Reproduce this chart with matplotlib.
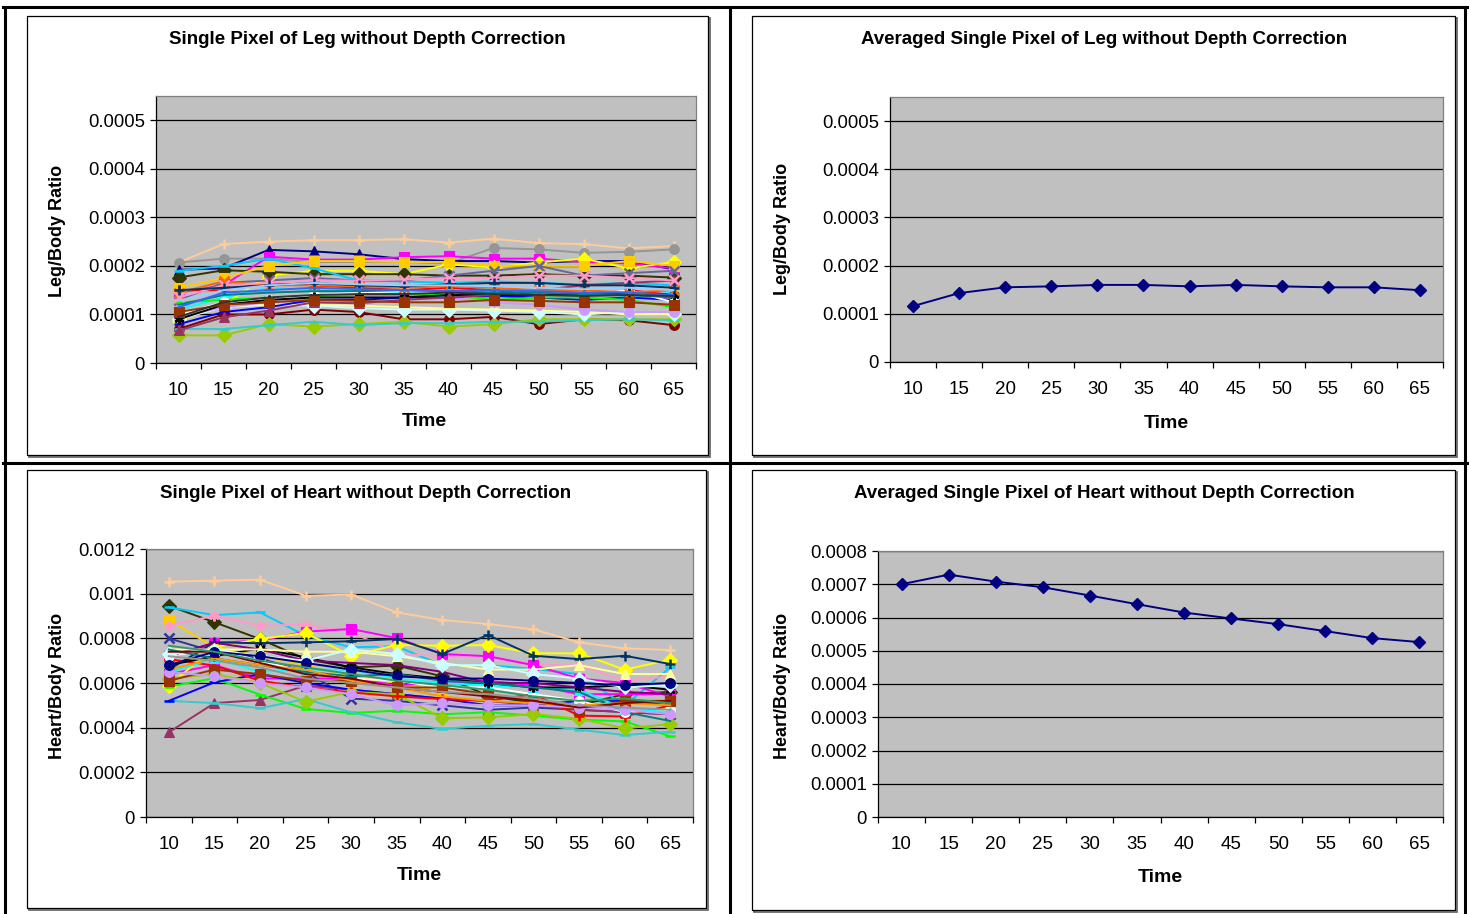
import numpy as np
import matplotlib
matplotlib.use('Agg')
import matplotlib.pyplot as plt
from matplotlib.patches import Rectangle
from matplotlib.lines import Line2D

plt.rcParams['font.family'] = ['Liberation Sans', 'DejaVu Sans']

W, H = 1469, 914

times = ['10', '15', '20', '25', '30', '35', '40', '45', '50', '55', '60', '65']

# leg, one list per pixel
leg_series = [
    [0.000207, 0.000245, 0.00025, 0.000253, 0.000253, 0.000255, 0.000248, 0.000256, 0.000247, 0.000245, 0.000236, 0.000241],
    [0.000207, 0.000215, 0.000215, 0.000208, 0.000208, 0.000208, 0.000205, 0.000237, 0.000234, 0.000227, 0.000229, 0.000234],
    [0.000192, 0.000195, 0.000233, 0.00023, 0.000224, 0.000214, 0.00021, 0.00021, 0.000207, 0.00021, 0.00021, 0.000193],
    [0.000145, 0.00016, 0.000219, 0.000213, 0.000213, 0.000218, 0.00022, 0.000215, 0.000215, 0.000208, 0.000205, 0.000195],
    [0.000087, 0.00012, 0.00018, 0.00019, 0.00019, 0.000183, 0.000203, 0.000197, 0.000207, 0.000215, 0.000195, 0.000208],
    [0.000176, 0.000191, 0.000188, 0.000183, 0.000183, 0.000183, 0.00018, 0.00018, 0.000183, 0.00018, 0.00018, 0.000176],
    [0.00019, 0.0002, 0.000215, 0.000195, 0.00017, 0.000168, 0.000165, 0.000168, 0.000165, 0.000162, 0.000165, 0.00016],
    [0.000155, 0.000175, 0.0002, 0.00021, 0.00021, 0.000208, 0.000208, 0.0002, 0.0002, 0.0002, 0.00021, 0.0002],
    [0.00007, 0.0001, 0.0001, 0.00011, 0.000105, 0.00009, 0.00009, 0.000095, 0.00008, 0.00009, 0.000088, 0.000078],
    [0.000057, 0.000057, 0.00008, 0.000075, 0.00008, 0.000085, 0.000075, 0.00008, 0.00009, 0.00009, 0.00009, 0.00009],
    [0.00007, 0.00007, 0.000078, 0.000085, 0.000078, 0.000082, 0.000082, 0.000085, 0.000085, 0.000088, 0.00009, 0.000088],
    [0.00009, 0.000115, 0.00012, 0.000118, 0.000113, 0.00011, 0.00011, 0.000108, 0.000105, 0.0001, 0.000105, 0.0001],
    [0.0001, 0.000118, 0.00012, 0.00012, 0.000118, 0.000115, 0.000112, 0.00011, 0.000108, 0.000105, 0.0001, 0.0001],
    [0.000095, 0.000115, 0.000125, 0.00013, 0.000135, 0.000135, 0.000135, 0.000125, 0.00012, 0.00011, 0.000105, 0.000105],
    [0.00011, 0.000135, 0.000155, 0.00015, 0.00015, 0.000145, 0.00015, 0.000155, 0.000145, 0.000155, 0.000135, 0.000145],
    [0.00013, 0.000165, 0.00017, 0.000175, 0.00017, 0.00017, 0.00018, 0.00019, 0.0002, 0.00018, 0.000185, 0.00019],
    [0.00008, 0.000105, 0.000115, 0.00013, 0.00013, 0.000135, 0.000135, 0.000138, 0.000135, 0.00013, 0.000135, 0.00013],
    [0.00015, 0.00015, 0.000165, 0.00016, 0.000155, 0.00015, 0.000155, 0.00015, 0.00014, 0.00014, 0.00015, 0.00014],
    [0.000125, 0.00013, 0.000135, 0.000138, 0.00014, 0.00014, 0.00014, 0.00013, 0.000135, 0.000135, 0.00013, 0.000115],
    [0.0001, 0.000125, 0.00013, 0.00014, 0.000145, 0.000148, 0.000145, 0.00014, 0.00015, 0.00014, 0.00015, 0.000125],
    [0.00009, 0.00012, 0.00013, 0.000135, 0.000135, 0.000135, 0.00014, 0.00014, 0.00014, 0.00014, 0.000145, 0.00014],
    [0.000067, 0.000094, 0.000108, 0.000125, 0.000123, 0.00013, 0.000135, 0.00014, 0.00015, 0.00016, 0.000165, 0.00017],
    [0.000145, 0.000168, 0.00016, 0.00016, 0.000158, 0.000155, 0.000158, 0.000155, 0.00015, 0.00015, 0.000145, 0.00015],
    [0.000135, 0.00016, 0.000165, 0.00017, 0.00017, 0.000172, 0.000175, 0.000175, 0.00018, 0.00018, 0.000175, 0.00017],
    [0.00015, 0.000155, 0.00016, 0.000165, 0.00016, 0.000158, 0.000162, 0.000165, 0.000165, 0.00016, 0.00016, 0.000155],
    [0.00012, 0.00014, 0.000145, 0.000148, 0.000148, 0.00015, 0.000148, 0.000145, 0.000145, 0.000142, 0.00014, 0.000135],
    [0.000105, 0.00012, 0.000125, 0.00013, 0.000128, 0.000125, 0.000125, 0.00013, 0.000128, 0.000125, 0.000125, 0.00012],
    [0.000128, 0.00015, 0.00016, 0.000165, 0.000162, 0.00016, 0.00016, 0.000158, 0.000155, 0.000152, 0.000155, 0.00015],
    [0.000115, 0.000145, 0.00015, 0.000155, 0.000152, 0.00015, 0.000148, 0.00015, 0.000148, 0.000145, 0.000145, 0.00014],
    [0.000095, 0.000125, 0.000135, 0.00014, 0.000142, 0.000142, 0.000145, 0.000142, 0.00014, 0.000138, 0.00014, 0.000138],
]
leg_avg = [0.000116, 0.000143, 0.000155, 0.000157, 0.00016, 0.00016, 0.000157, 0.00016, 0.000157, 0.000155, 0.000155, 0.000149]

heart_series = [
    [0.001054, 0.001058, 0.001063, 0.000991, 0.000996, 0.000916, 0.000882, 0.000864, 0.00084, 0.000782, 0.000755, 0.000748],
    [0.000946, 0.000872, 0.000797, 0.000707, 0.00067, 0.000678, 0.00063, 0.000544, 0.00051, 0.0005, 0.00055, 0.00056],
    [0.000939, 0.000904, 0.000916, 0.000812, 0.00076, 0.000764, 0.00068, 0.00068, 0.000663, 0.00064, 0.000499, 0.00067],
    [0.000882, 0.00076, 0.00072, 0.00068, 0.00063, 0.0006, 0.00056, 0.00055, 0.00052, 0.0005, 0.00049, 0.00048],
    [0.000857, 0.000901, 0.000857, 0.000861, 0.00083, 0.00073, 0.00072, 0.000722, 0.00068, 0.00068, 0.00061, 0.00063],
    [0.00072, 0.00078, 0.00079, 0.00083, 0.000842, 0.000801, 0.00073, 0.00072, 0.00068, 0.00062, 0.0006, 0.00054],
    [0.00064, 0.00068, 0.00062, 0.00062, 0.00062, 0.00059, 0.0006, 0.00061, 0.00059, 0.00055, 0.00055, 0.00055],
    [0.000588, 0.00076, 0.000797, 0.000824, 0.000722, 0.00077, 0.000767, 0.00077, 0.000733, 0.000733, 0.00066, 0.000704],
    [0.00066, 0.000782, 0.000778, 0.000782, 0.000787, 0.000797, 0.00073, 0.000815, 0.000722, 0.000707, 0.000722, 0.000685],
    [0.0008, 0.00074, 0.00071, 0.00065, 0.00053, 0.00052, 0.0005, 0.00048, 0.00049, 0.00048, 0.00047, 0.00046],
    [0.000379, 0.00051, 0.000524, 0.000588, 0.00057, 0.00055, 0.00053, 0.00052, 0.0005, 0.00048, 0.00047, 0.00046],
    [0.000584, 0.000621, 0.000548, 0.000484, 0.000466, 0.000476, 0.00046, 0.000469, 0.000454, 0.000436, 0.000428, 0.000361],
    [0.00052, 0.00051, 0.000487, 0.000528, 0.000469, 0.000424, 0.000394, 0.000409, 0.000416, 0.000391, 0.000367, 0.000382],
    [0.00052, 0.000603, 0.00064, 0.0006, 0.00057, 0.00055, 0.00053, 0.0005, 0.0005, 0.00052, 0.00052, 0.0005],
    [0.00062, 0.00064, 0.0006, 0.000516, 0.00056, 0.00055, 0.000442, 0.000446, 0.000461, 0.00044, 0.000397, 0.000416],
    [0.000707, 0.000678, 0.00061, 0.00058, 0.000558, 0.00054, 0.000528, 0.00052, 0.00055, 0.000454, 0.00045, 0.0005],
    [0.000722, 0.00075, 0.0007, 0.00065, 0.00062, 0.00061, 0.00058, 0.00058, 0.00055, 0.00052, 0.00047, 0.00048],
    [0.000648, 0.00071, 0.00065, 0.00066, 0.00066, 0.00062, 0.0006, 0.00059, 0.00058, 0.00057, 0.000484, 0.00047],
    [0.00068, 0.00072, 0.000755, 0.000715, 0.00067, 0.00064, 0.00062, 0.0006, 0.00058, 0.00058, 0.00059, 0.00057],
    [0.00072, 0.00078, 0.00075, 0.0007, 0.00069, 0.00068, 0.00065, 0.0006, 0.0006, 0.00058, 0.00056, 0.00055],
    [0.00075, 0.00075, 0.00075, 0.00074, 0.00074, 0.00072, 0.00069, 0.00066, 0.00066, 0.00068, 0.00064, 0.00064],
    [0.00073, 0.00075, 0.00072, 0.0007, 0.00075, 0.00073, 0.00068, 0.00068, 0.00064, 0.00062, 0.00058, 0.00059],
    [0.00061, 0.00066, 0.00064, 0.00061, 0.00061, 0.00058, 0.00058, 0.00055, 0.00052, 0.00048, 0.00052, 0.00052],
    [0.00075, 0.00071, 0.00068, 0.00065, 0.00063, 0.00064, 0.00061, 0.0006, 0.00058, 0.00056, 0.00047, 0.00043],
    [0.00066, 0.00071, 0.00068, 0.00066, 0.00061, 0.00058, 0.00054, 0.00052, 0.00051, 0.0005, 0.00051, 0.0005],
    [0.00065, 0.00063, 0.0006, 0.00058, 0.00055, 0.0005, 0.00051, 0.0005, 0.0005, 0.00049, 0.00048, 0.00046],
    [0.00074, 0.00074, 0.00069, 0.00064, 0.00062, 0.00058, 0.00056, 0.00054, 0.00052, 0.00049, 0.00051, 0.00052],
    [0.00068, 0.00074, 0.00072, 0.00069, 0.00066, 0.00063, 0.00062, 0.00062, 0.00061, 0.0006, 0.00059, 0.0006],
    [0.000767, 0.00074, 0.0007, 0.00067, 0.00064, 0.00061, 0.00059, 0.00057, 0.00054, 0.00052, 0.00053, 0.00051],
    [0.00072, 0.0007, 0.00067, 0.00062, 0.0006, 0.00058, 0.00056, 0.00055, 0.00053, 0.0005, 0.00049, 0.00048],
]
heart_avg = [0.0007, 0.000729, 0.000708, 0.000691, 0.000666, 0.00064, 0.000615, 0.000597, 0.00058, 0.000559, 0.000538, 0.000526]

STAR = (6, 2, 0)
leg_colors = ['#FFCC99', '#969696', '#000080', '#FF00FF', '#FFFF00', '#333300', '#00CCFF', '#FFCC00',
              '#800000', '#99CC00', '#33CCCC', '#CCFFFF', '#FFFF99', '#CC99FF', '#00FFFF', '#666699',
              '#0000FF', '#FF0000', '#00FF00', '#FFFFFF', '#000000', '#993366', '#FF6600', '#FF99CC',
              '#003366', '#008080', '#993300', '#99CCFF', '#3366FF', '#333333']
leg_markers = ['+', 'o', '^', 's', 'D', 'D', '_', 's', 'o', 'D', '_', 'D', 'None', 'o', '^', 'x',
               '_', '+', '_', 'o', STAR, '^', 'x', 'x', '+', 'None', 's', 'None', 'None', 'None']

heart_colors = ['#FFCC99', '#333300', '#00CCFF', '#FFCC00', '#FF99CC', '#FF00FF', '#FF00FF', '#FFFF00',
                '#003366', '#333399', '#993366', '#00FF00', '#33CCCC', '#0000FF', '#99CC00', '#FF0000',
                '#FFFFFF', '#00FFFF', '#000000', '#800080', '#FFFF99', '#CCFFFF', '#993300', '#008080',
                '#FF9900', '#CC99FF', '#800000', '#000080', '#339966', '#969696']
heart_markers = ['+', 'D', '_', 's', STAR, 's', 's', 'D', '+', 'x', '^', '_', '_', '_', 'D', '+',
                 'o', '^', STAR, 'None', '^', 'D', 's', 'None', 'None', 'o', 'None', 'o', 'None', 'None']

fig = plt.figure(figsize=(W / 100, H / 100), dpi=100)

# background layer in pixel coords: table lines and chart boxes
bg = fig.add_axes([0, 0, 1, 1])
bg.set_xlim(0, W)
bg.set_ylim(H, 0)
bg.axis('off')
for x0, y0, x1, y1 in [(3, 7, 1467, 7), (5, 7, 5, 914), (1465, 7, 1465, 914),
                       (730, 7, 730, 914), (3, 463, 1467, 463)]:
    bg.add_line(Line2D([x0, x1], [y0, y1], color='black', lw=2.2))
for x0, y0, x1, y1 in [(27, 16, 708, 455), (752, 16, 1455, 455), (27, 470, 706, 908), (752, 470, 1455, 910)]:
    bg.add_patch(Rectangle((x0 + 2, y0 + 2), x1 - x0, y1 - y0, facecolor='none', edgecolor='#606060', lw=1.2))
    bg.add_patch(Rectangle((x0, y0), x1 - x0, y1 - y0, facecolor='white', edgecolor='black', lw=0.9))


def make_ax(box, ymax, step, labels):
    x0, y0, x1, y1 = box
    ax = fig.add_axes([x0 / W, 1 - y1 / H, (x1 - x0) / W, (y1 - y0) / H])
    ax.set_facecolor('#C0C0C0')
    ax.set_xlim(-0.5, 11.5)
    ax.set_ylim(0, ymax)
    ticks = [i * step for i in range(len(labels))]
    ax.set_yticks(ticks)
    ax.set_yticklabels(labels, fontsize=13.3)
    ax.set_xticks(range(12))
    ax.set_xticklabels(times, fontsize=13.5)
    ax.set_xticks(np.arange(-0.5, 12, 1), minor=True)
    ax.tick_params(axis='x', which='major', length=0, pad=14)
    ax.tick_params(axis='x', which='minor', length=4, width=0.9, direction='out')
    ax.tick_params(axis='y', length=4, width=0.9, direction='out', pad=4)
    ax.yaxis.grid(True, color='black', lw=0.9)
    ax.set_axisbelow(True)
    for s in ['top', 'right']:
        ax.spines[s].set_color('#808080')
        ax.spines[s].set_linewidth(0.9)
    for s in ['left', 'bottom']:
        ax.spines[s].set_color('black')
        ax.spines[s].set_linewidth(0.9)
    return ax


x = np.arange(12)

leg_labels = ['0', '0.0001', '0.0002', '0.0003', '0.0004', '0.0005']
ax1 = make_ax((156, 96, 696, 363), 0.00055, 0.0001, leg_labels)
for vals, c, m in zip(leg_series, leg_colors, leg_markers):
    ax1.plot(x, vals, color=c, lw=1.4, marker=m, markersize=7, markerfacecolor=c,
             markeredgecolor=c, markeredgewidth=1.8 if m in ['+', 'x', '_', STAR] else 0.8)

ax2 = make_ax((890, 97, 1443, 362), 0.00055, 0.0001, leg_labels)
ax2.plot(x, leg_avg, color='#000080', lw=1.4, marker='D', markersize=6.5)

heart_labels = ['0', '0.0002', '0.0004', '0.0006', '0.0008', '0.001', '0.0012']
ax3 = make_ax((146, 549, 693, 817), 0.0012, 0.0002, heart_labels)
for vals, c, m in zip(heart_series, heart_colors, heart_markers):
    ax3.plot(x, vals, color=c, lw=1.4, marker=m, markersize=7, markerfacecolor=c,
             markeredgecolor=c, markeredgewidth=1.8 if m in ['+', 'x', '_', STAR] else 0.8)

ax4 = make_ax((878, 551, 1443, 817), 0.0008, 0.0001,
              ['0', '0.0001', '0.0002', '0.0003', '0.0004', '0.0005', '0.0006', '0.0007', '0.0008'])
ax4.plot(x, heart_avg, color='#000080', lw=1.4, marker='D', markersize=6.5)

# titles and axis labels, placed in pixel coords
texts = [
    (367, 40, 'Single Pixel of Leg without Depth Correction'),
    (1104, 40, 'Averaged Single Pixel of Leg without Depth Correction'),
    (366, 494, 'Single Pixel of Heart without Depth Correction'),
    (1104, 494, 'Averaged Single Pixel of Heart without Depth Correction'),
]
for tx, ty, s in texts:
    bg.text(tx, ty, s, ha='center', va='center', fontsize=13.5, fontweight='bold')

for tx, ty in [(424, 422), (1166, 423), (419, 876), (1160, 878)]:
    bg.text(tx, ty, 'Time', ha='center', va='center', fontsize=14, fontweight='bold')

for tx, ty, s in [(58, 231, 'Leg/Body Ratio'), (783, 229, 'Leg/Body Ratio'),
                  (58, 686, 'Heart/Body Ratio'), (783, 686, 'Heart/Body Ratio')]:
    bg.text(tx, ty, s, ha='center', va='center', rotation=90, fontsize=13, fontweight='bold')

plt.savefig('out.png', dpi=100)
